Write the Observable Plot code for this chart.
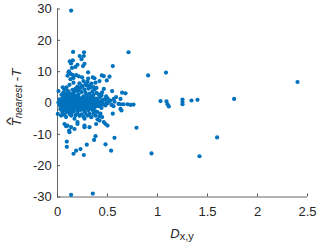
<!DOCTYPE html>
<html><head><meta charset="utf-8">
<script src="https://cdn.jsdelivr.net/npm/d3@7"></script>
<script src="https://cdn.jsdelivr.net/npm/@observablehq/plot@0.6"></script>
<style>body{margin:0;background:#fff}</style>
</head><body><div id="chart"></div>
<script>
// Tick labels
const xTicks = [0, 0.5, 1, 1.5, 2, 2.5];
const yTicks = [-30, -20, -10, 0, 10, 20, 30];

// Outlying points (D_x,y , T_nearest - T)
const outerD = [0.136,0.156,0.265,0.710,0.263,0.153,0.123,0.135,0.222,0.240,0.270,0.255,0.200,0.180,0.145,0.553,0.906,1.085,2.400,
  0.110,0.115,0.130,0.150,0.100,0.186,0.213,0.246,0.306,0.306,0.353,0.443,0.463,0.520,0.493,0.160,0.130,0.370,
  0.42,0.38,0.34,0.30,0.28,0.26,0.22,0.24,0.20,0.18,0.16,0.12,0.09,0.07,0.10,0.463,0.446,0.43,0.546,0.646,0.680,0.586,0.630,0.486,0.563,0.32,0.36,0.39,0.01,0.053,
  1.030,1.090,1.100,1.113,1.250,1.250,1.250,1.340,1.400,1.766,0.610,0.630,0.660,0.700,0.730,0.760,0.53,0.50,0.57,
  0.630,0.640,0.553,0.446,0.463,0.480,0.500,0.790,0.570,0.480,0.536,0.940,1.596,1.420,
  0.093,0.093,0.160,0.186,0.230,0.263,0.293,0.366,0.380,0.136,0.353,
  0.086,0.136,0.170,0.270,0.320,0.116,0.120,
  0.003,0.036,0.086,0.136,0.170,0.200,0.070,0.100,0.200,0.270,0.336,0.420,0.270,0.386,0.40,0.42];
const outerT = [29.5,16.3,16.2,16.2,15.0,13.6,13.3,12.6,15.0,14.0,12.5,11.8,12.2,11.5,11.2,11.8,8.8,9.7,6.7,
  9.8,10.1,9.3,9.0,8.7,8.9,8.5,8.2,7.8,9.8,8.2,8.8,8.6,8.4,7.2,8.0,7.6,7.9,
  7.0,6.5,6.2,6.8,6.0,7.0,6.3,5.5,5.2,4.6,6.5,5.8,5.0,4.4,3.9,4.5,3.4,2.7,3.8,3.3,3.1,1.9,1.3,2.1,1.3,5.6,5.1,4.8,3.8,5.0,
  0.6,0.5,-0.4,-1.1,1.1,0.3,-0.4,0.8,1.0,1.3,-0.3,-0.4,-0.4,-0.4,-0.6,-0.5,0.8,1.5,0.4,
  -1.9,-2.4,-3.4,-4.5,-6.1,-6.7,-7.2,-7.9,-11.1,-13.2,-15.2,-16.1,-11.0,-17.0,
  -12.3,-14.0,-16.2,-15.2,-14.7,-16.6,-13.3,-11.8,-10.6,-29.3,-28.9,
  -7.4,-7.7,-8.3,-7.7,-7.7,-8.8,-9.3,
  -3.5,-4.0,-4.5,-4.0,-5.0,-6.1,-6.7,-7.2,-6.7,-5.0,-4.5,-5.6,-7.2,-6.7,-5.2,-4.2];

// Dense central cluster
const coreD = [0.01,0.02,0.03,0.03,0.04,0.05,0.05,0.06,0.06,0.07,0.07,0.08,0.08,0.09,0.09,0.10,0.10,0.11,0.11,0.12,0.12,0.13,0.13,0.14,0.14,0.15,0.15,0.16,0.16,0.17,0.17,0.18,0.18,0.19,0.19,0.20,0.20,0.21,0.21,0.22,0.22,0.23,0.23,0.24,0.24,0.25,0.25,0.26,0.26,0.27,0.27,0.28,0.28,0.29,0.29,0.30,0.30,0.31,0.31,0.32,0.32,0.33,0.33,0.34,0.34,0.35,0.35,0.36,0.36,0.37,0.37,0.38,0.38,0.39,0.40,0.40,0.41,0.42,0.42,0.43,0.44,0.45,0.46,0.47,0.48,0.49,0.50,0.52,0.54,0.56,
  0.02,0.03,0.04,0.05,0.06,0.07,0.08,0.09,0.10,0.11,0.12,0.13,0.14,0.15,0.16,0.17,0.18,0.19,0.20,0.21,0.22,0.23,0.24,0.25,0.26,0.27,0.28,0.29,0.30,0.31,0.32,0.33,0.34,0.35,0.36,0.37,0.38,0.39,0.40,0.41,0.43,0.44,
  0.015,0.025,0.035,0.045,0.055,0.065,0.075,0.085,0.095,0.105,0.115,0.125,0.135,0.145,0.155,0.165,0.175,0.185,0.195,0.205,0.215,0.225,0.235,0.245,0.255,0.265,0.275,0.285,0.295,0.305,0.315,0.325,0.335,0.345,0.355,0.365,0.375,0.385,0.395,0.41,0.43,0.45,
  0.04,0.06,0.08,0.11,0.13,0.16,0.18,0.21,0.23,0.26,0.28,0.31,0.33,0.36,0.12,0.17,0.22,0.27,0.32,0.07,0.14,0.19,0.24,0.29,0.34,0.09,0.15,0.25,0.35,0.20];
const coreT = [0.2,-0.5,0.8,-1.2,0.1,1.5,-0.3,-1.8,0.6,2.2,-0.9,0.3,-2.4,1.1,-0.1,-1.5,2.8,0.5,-0.7,1.7,-2.9,0.0,-1.1,2.4,0.9,-0.4,-2.0,1.3,3.1,-0.8,0.4,-1.6,2.0,-0.2,1.0,-2.6,0.7,-1.0,2.7,0.1,-0.6,1.5,-2.2,0.3,3.5,-1.3,0.9,-0.1,2.1,-2.8,1.2,-0.5,0.6,-1.7,2.5,0.2,-0.9,1.6,-2.3,0.0,3.0,-1.2,0.8,-0.3,1.9,-1.9,0.4,-0.6,2.6,0.9,-1.4,0.1,-2.7,1.4,-0.4,0.7,-1.0,1.8,-0.2,0.5,-1.6,0.9,-0.5,1.2,-0.8,0.3,-0.1,0.6,-0.6,-1.0,
  1.2,-2.0,2.6,-3.1,3.4,-3.8,1.9,-2.9,0.0,3.6,-3.5,2.9,-3.2,4.2,-2.7,3.8,-3.9,4.6,-3.3,4.0,-4.1,4.8,-3.6,5.2,-4.4,4.3,-3.2,5.6,-4.0,4.6,-3.5,5.0,-4.5,3.7,-3.3,4.4,-4.0,3.2,-2.9,2.8,-3.4,2.4,
  -0.1,0.5,-0.8,1.0,0.2,-1.4,1.3,-0.4,0.7,-1.1,1.9,-0.5,1.0,-1.6,0.3,-0.9,1.7,-0.1,-1.3,1.9,-0.3,-1.8,0.8,-0.8,1.8,-1.5,0.1,1.4,-0.7,1.1,-0.3,-1.6,1.3,0.0,-1.1,1.5,-0.4,0.5,-1.0,0.2,-0.8,0.1,
  -2.2,2.9,-1.0,-2.0,1.8,-2.5,2.4,-1.9,0.4,-2.1,3.3,-1.4,2.2,-2.4,0.6,2.3,-0.7,-0.9,1.0,-0.2,-0.7,0.5,-1.7,-0.3,1.0,3.0,-2.5,-0.6,-2.2,3.8];

const points = [
  ...outerD.map((d, i) => ({d, t: outerT[i]})),
  ...coreD.map((d, i) => ({d, t: coreT[i]}))
];

const ink = "#262626";
const font = "'Liberation Sans', Arial, Helvetica, sans-serif";

const svg = Plot.plot({
  width: 320, height: 245,
  marginLeft: 57, marginRight: 13, marginTop: 8.5, marginBottom: 48.5,
  style: {fontFamily: font, fontSize: "13px", color: ink, background: "#fff", overflow: "visible"},
  x: {domain: [0, 2.5], label: null},
  y: {domain: [-30, 30], label: null},
  marks: [
    Plot.ruleX([0], {stroke: "#555", strokeWidth: 0.9}),
    Plot.ruleY([-30], {stroke: "#555", strokeWidth: 0.9}),
    Plot.axisX(xTicks, {tickSize: -3, tickPadding: 12.3, stroke: "#555", fill: ink, fontSize: 13, label: null, tickFormat: d => String(d)}),
    Plot.axisY(yTicks, {tickSize: -3, tickPadding: 8.7, stroke: "#555", fill: ink, fontSize: 13, label: null, tickFormat: d => (d < 0 ? "-" + Math.abs(d) : String(d))}),
    Plot.dot(points, {x: "d", y: "t", r: 2.1, fill: "#0072BD", stroke: null})
  ]
});
document.getElementById("chart").appendChild(svg);

const s = d3.select(svg);
const xs = svg.scale("x"), ys = svg.scale("y");
const cx = (xs.apply(0) + xs.apply(2.5)) / 2;
const xl = s.append("text").attr("x", cx).attr("y", 238.3).attr("text-anchor", "middle")
  .attr("font-family", font).attr("fill", ink);
xl.append("tspan").attr("font-style", "italic").attr("font-size", 13).text("D");
xl.append("tspan").attr("font-size", 11).attr("dy", 1.3).text("x,y");

// y label: T-hat with subscript "nearest", then " -T"
const cy = ys.apply(0) - 5;
const bx = 20.7;
const yl = s.append("text").attr("text-anchor", "start")
  .attr("font-family", font).attr("fill", ink);
const tT = yl.append("tspan").attr("font-style", "italic").attr("font-size", 13.5).text("T");
yl.append("tspan").attr("font-style", "italic").attr("font-size", 10).attr("dy", 1.5).text("nearest");
yl.append("tspan").attr("font-size", 13.5).attr("dy", -1.5).text(" -");
yl.append("tspan").attr("font-style", "italic").attr("font-size", 13.5).text("T");
const len = yl.node().getComputedTextLength();
const start = cy + len / 2;
yl.attr("transform", `translate(${bx},${start}) rotate(-90)`);
const tw = tT.node().getComputedTextLength();
s.append("text").attr("transform", `translate(${bx},${start}) rotate(-90)`)
  .attr("x", tw / 2 + 1.2).attr("y", -5.6).attr("text-anchor", "middle")
  .attr("font-family", font).attr("font-size", 13).attr("fill", ink)
  .attr("transform", `translate(${bx},${start}) rotate(-90) scale(1.35,1)`)
  .attr("x", (tw / 2 + 1.2) / 1.35)
  .text("^");
</script></body></html>
